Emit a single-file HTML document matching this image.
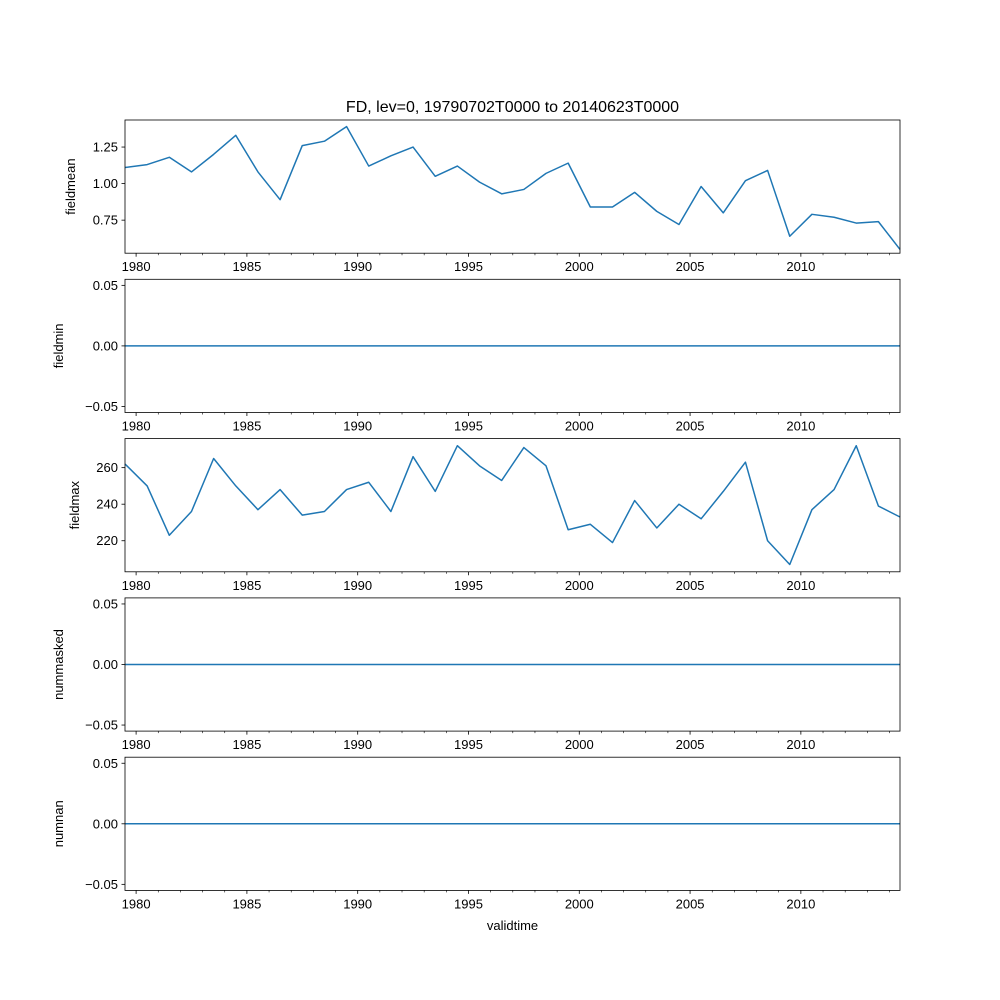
<!DOCTYPE html>
<html><head><meta charset="utf-8">
<style>
html,body{margin:0;padding:0;background:#fff;}
svg{display:block;font-family:"Liberation Sans","DejaVu Sans",sans-serif;}
</style></head>
<body>
<svg id="chart" width="1000" height="1000" viewBox="0 0 1000 1000" xmlns="http://www.w3.org/2000/svg">
<text x="512.5" y="112" font-size="16" text-anchor="middle">FD, lev=0, 19790702T0000 to 20140623T0000</text>
<text x="512.5" y="930" font-size="13" text-anchor="middle">validtime</text>
</svg>
<script>
const years = [1979,1980,1981,1982,1983,1984,1985,1986,1987,1988,1989,1990,1991,1992,1993,1994,1995,1996,1997,1998,1999,2000,2001,2002,2003,2004,2005,2006,2007,2008,2009,2010,2011,2012,2013,2014];
const fieldmean = [1.11,1.13,1.18,1.08,1.20,1.33,1.08,0.89,1.26,1.29,1.39,1.12,1.19,1.25,1.05,1.12,1.01,0.93,0.96,1.07,1.14,0.84,0.84,0.94,0.81,0.72,0.98,0.80,1.02,1.09,0.64,0.79,0.77,0.73,0.74,0.55];
const fieldmin = years.map(()=>0);
const fieldmax = [262,250,223,236,265,250,237,248,234,236,248,252,236,266,247,272,261,253,271,261,226,229,219,242,227,240,232,247,263,220,207,237,248,272,239,233];
const nummasked = years.map(()=>0);
const numnan = years.map(()=>0);
const xTickLabels = [1980,1985,1990,1995,2000,2005,2010];
const meanTicks = [0.75,1.00,1.25];
const maxTicks = [220,240,260];
const zeroTicks = [-0.05,0.00,0.05];

const NS="http://www.w3.org/2000/svg";
const svg=document.getElementById('chart');
const X0=125,X1=900;
const T0=1979+182/365, T1=2014+173/365;
function xs(t){return X0+(t-T0)/(T1-T0)*(X1-X0);}
function mk(tag,attrs,parent){const e=document.createElementNS(NS,tag);for(const k in attrs)e.setAttribute(k,attrs[k]);(parent||svg).appendChild(e);return e;}

const panels=[
 {name:'fieldmean',data:fieldmean,ticks:meanTicks,top:120,min:0.524,max:1.435,fmt:v=>v.toFixed(2)},
 {name:'fieldmin',data:fieldmin,ticks:zeroTicks,top:279.3,min:-0.055,max:0.055,fmt:v=>v.toFixed(2)},
 {name:'fieldmax',data:fieldmax,ticks:maxTicks,top:438.6,min:203,max:275.9,fmt:v=>String(v)},
 {name:'nummasked',data:nummasked,ticks:zeroTicks,top:597.9,min:-0.055,max:0.055,fmt:v=>v.toFixed(2)},
 {name:'numnan',data:numnan,ticks:zeroTicks,top:757.2,min:-0.055,max:0.055,fmt:v=>v.toFixed(2)}
];
const H=133.2;
panels.forEach(p=>{
  const g=mk('g',{});
  
  
  const bot=p.top+H;
  const ys=v=>bot-(v-p.min)/(p.max-p.min)*H;
  const pts=p.data.map((v,i)=>xs(years[i]+(i===years.length-1?173/365:182/365)).toFixed(2)+','+ys(v).toFixed(2)).join(' ');
  const line=mk('polyline',{points:pts,fill:'none',stroke:'#1f77b4','stroke-width':1.5,'stroke-linejoin':'round'},g);
  
  
  const fr=mk('rect',{x:X0,y:p.top,width:X1-X0,height:H,fill:'none',stroke:'#000','stroke-width':0.8},g);
  
  
  p.ticks.forEach(v=>{
    const y=ys(v);
    mk('line',{x1:X0-3.5,x2:X0,y1:y,y2:y,stroke:'#000','stroke-width':0.8},g);
    const t=mk('text',{x:X0-7,y:y+4.5,'font-size':13,'text-anchor':'end'},g);
    
    
    t.textContent=p.fmt(v).replace('-','\u2212');
  });
  for(let yr=1980;yr<=2014;yr++){
    const x=xs(yr);
    const major=xTickLabels.includes(yr);
    mk('line',{x1:x,x2:x,y1:bot,y2:bot+(major?3.5:2),stroke:'#000','stroke-width':major?0.8:0.6},g);
  }
  xTickLabels.forEach(yr=>{
    const t=mk('text',{x:xs(yr),y:bot+18,'font-size':13,'text-anchor':'middle'},g);
    
    
    t.textContent=yr;
  });
  const yl=mk('text',{x:0,y:0,'font-size':13,'text-anchor':'middle',transform:`translate(${p.name==='fieldmean'?75:(p.name==='fieldmax'?79:63)},${p.top+H/2}) rotate(-90)`},g);
  
  
  yl.textContent=p.name;
});
</script>
</body></html>
